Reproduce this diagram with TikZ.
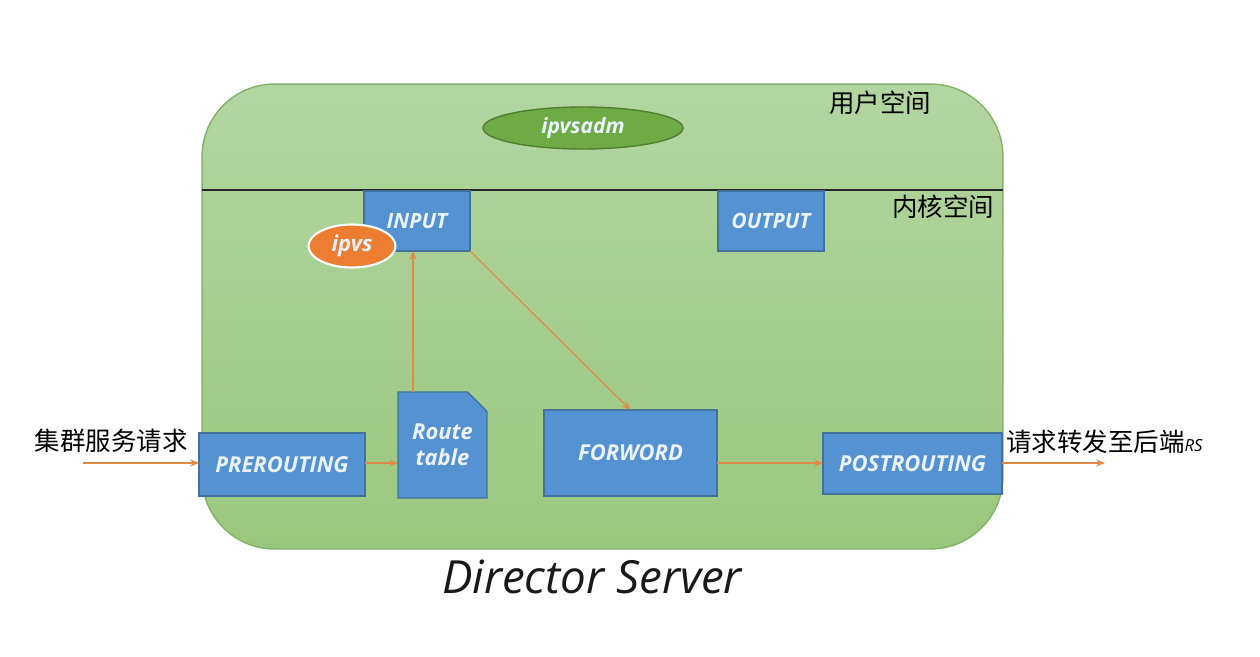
\documentclass[tikz,border=0pt]{standalone}
\usepackage{fontspec}
\setmainfont{Open Sans}
\newfontfamily\cjk{Noto Sans CJK SC}
\usetikzlibrary{arrows.meta,shapes.misc,shapes.geometric}
\definecolor{boxblue}{HTML}{5592D2}
\definecolor{boxedge}{HTML}{41719C}
\definecolor{boxtext}{HTML}{EAF2FB}
\definecolor{gtop}{HTML}{B3D6A0}
\definecolor{gbot}{HTML}{9AC77E}
\definecolor{gedge}{HTML}{86B06C}
\definecolor{ellg}{HTML}{6EAA45}
\definecolor{ellgedge}{HTML}{4E8030}
\definecolor{orng}{HTML}{ED7D31}
\definecolor{arr}{HTML}{E0894A}
\tikzset{
  hook/.style={draw=boxedge, fill=boxblue, line width=0.8pt, inner sep=0pt, outer sep=0pt,
    text=boxtext, font=\fontsize{12.5}{15}\selectfont\bfseries\itshape, align=center},
  flow/.style={draw=arr, line width=0.7pt, -{Stealth[length=5pt,width=4pt]}},
  cn/.style={font=\cjk\fontsize{14.5}{16}\selectfont, inner sep=0pt}
}
\begin{document}
\begin{tikzpicture}[x=0.02cm,y=-0.02cm]
\useasboundingbox[fill=white] (0,0) rectangle (1260,656);
\node[draw=gedge, line width=0.8pt, top color=gtop, bottom color=gbot, rounded corners=1.45cm,
  minimum width=16.02cm, minimum height=9.3cm, inner sep=0pt, outer sep=0pt] (server) at (602.5,316.5) {};
\coordinate (sepL) at (202,190);
\coordinate (sepR) at (1003,190);
\draw[line width=1.3pt, black!85] (sepL) -- (sepR);
\node[ellipse, draw=ellgedge, fill=ellg, line width=0.8pt, minimum width=4cm, minimum height=0.84cm,
  text=boxtext, font=\fontsize{12}{14}\selectfont\bfseries\itshape, inner sep=0pt] (adm) at (583,128) {ipvsadm};
\node[cn, anchor=center] (user) at (880,103) {用户空间};
\node[cn, anchor=center] (kern) at (943,207) {内核空间};
\node[hook, minimum width=2.12cm, minimum height=1.2cm, font=\fontsize{12}{14}\selectfont\bfseries\itshape] (input) at (417,221) {INPUT};
\node[hook, minimum width=2.12cm, minimum height=1.2cm, font=\fontsize{12}{14}\selectfont\bfseries\itshape] (output) at (771,221) {OUTPUT};
\node[ellipse, draw=white, fill=orng, line width=1.2pt, minimum width=1.74cm, minimum height=0.86cm,
  text=boxtext, font=\fontsize{12.5}{14}\selectfont\bfseries\itshape, inner sep=0pt] (ipvs) at (352,246) {ipvs};
\node[hook, minimum width=3.32cm, minimum height=1.26cm] (pre) at (282,464.5) {PREROUTING};
\node[hook, chamfered rectangle, chamfered rectangle corners=north east, chamfered rectangle xsep=0.26cm,
  minimum width=1.78cm, minimum height=2.12cm] (route) at (442.5,445) {Route\\table};
\node[hook, minimum width=3.46cm, minimum height=1.72cm] (fwd) at (630.5,453) {FORWORD};
\node[hook, minimum width=3.58cm, minimum height=1.22cm] (post) at (912.5,463.5) {POSTROUTING};
\coordinate (inL) at (83,463);
\coordinate (outR) at (1105,463);
\node[cn, anchor=east] (req) at (188,441) {集群服务请求};
\node[cn, anchor=west] (fw) at (1006,442) {请求转发至后端{\rmfamily\fontsize{9.5}{10}\selectfont\itshape RS}};
\draw[flow] (inL) -- (inL -| pre.west);
\draw[flow] (pre.east |- 0,463) -- (route.west |- 0,463);
\draw[flow] (route.north -| 413,0) -- (input.south -| 413,0);
\draw[flow] (input.south east) -- (fwd.north);
\draw[flow] (fwd.east |- 0,463) -- (post.west |- 0,463);
\draw[flow] (post.east |- 0,463) -- (outR);
\node[font=\fontsize{26}{30}\selectfont\itshape, text=black!90] (title) at (592,577) {Director Server};
\end{tikzpicture}
\end{document}
